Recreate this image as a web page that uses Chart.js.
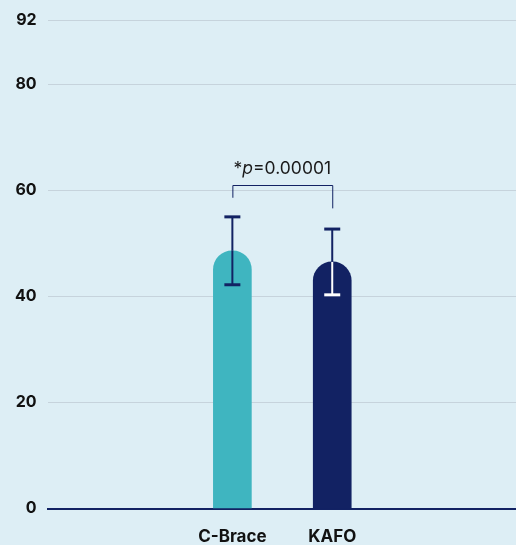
<!DOCTYPE html>
<html>
<head>
<meta charset="utf-8">
<script src="https://cdn.jsdelivr.net/npm/chart.js@4.4.0/dist/chart.umd.min.js"></script>
<style>
  html, body { margin: 0; padding: 0; background: #ddeef5; overflow: hidden; }
  #wrap { width: 516px; height: 553px; }
</style>
</head>
<body>
<div id="wrap"><canvas id="chart"></canvas></div>
<script>
// Mean scores per device with +/- error (SD)
const categories = ['C-Brace', 'KAFO'];
const positions = [1, 2];
const means = [48.6, 46.5];
const errors = [6.4, 6.2];
const barColors = ['#3fb5c0', '#122263'];
const yTicks = [0, 20, 40, 60, 80, 92];

// Significance bracket between the two bars
const sigLabel = ['*', 'p', '=0.00001'];
const sigLevel = 61.1;
const sigLegEnds = [58.6, 56.6];

const navy = '#122263';

// Error bars + bracket drawn on top of the bars
const errorBarPlugin = {
    id: 'errorBars',
    afterDatasetsDraw(chart) {
        const ctx = chart.ctx;
        const x = chart.scales.x;
        const y = chart.scales.y;
        ctx.save();
        positions.forEach((pos, i) => {
            const cx = x.getPixelForValue(pos);
            const top = y.getPixelForValue(means[i] + errors[i]);
            const bottom = y.getPixelForValue(means[i] - errors[i]);
            const barTop = y.getPixelForValue(means[i]);
            // part inside a dark bar is drawn white
            const inner = i === 1 ? '#ffffff' : navy;
            ctx.lineWidth = 2;
            ctx.strokeStyle = navy;
            ctx.beginPath();
            ctx.moveTo(cx, top);
            ctx.lineTo(cx, barTop);
            ctx.stroke();
            ctx.strokeStyle = inner;
            ctx.beginPath();
            ctx.moveTo(cx, barTop);
            ctx.lineTo(cx, bottom);
            ctx.stroke();
            ctx.lineWidth = 3;
            ctx.strokeStyle = navy;
            ctx.beginPath();
            ctx.moveTo(cx - 8, top);
            ctx.lineTo(cx + 8, top);
            ctx.stroke();
            ctx.strokeStyle = inner;
            ctx.beginPath();
            ctx.moveTo(cx - 8, bottom);
            ctx.lineTo(cx + 8, bottom);
            ctx.stroke();
        });

        // bracket
        const x1 = x.getPixelForValue(positions[0]);
        const x2 = x.getPixelForValue(positions[1]);
        const by = Math.round(y.getPixelForValue(sigLevel)) + 0.5;
        ctx.lineWidth = 1;
        ctx.strokeStyle = navy;
        ctx.beginPath();
        ctx.moveTo(x1 + 0.5, y.getPixelForValue(sigLegEnds[0]));
        ctx.lineTo(x1 + 0.5, by);
        ctx.lineTo(x2 + 0.5, by);
        ctx.lineTo(x2 + 0.5, y.getPixelForValue(sigLegEnds[1]));
        ctx.stroke();

        // label: *p=0.00001 with italic p
        const fonts = ['17.5px Inter', 'italic 17.5px Inter', '17.5px Inter'];
        let widths = sigLabel.map((t, k) => { ctx.font = fonts[k]; return ctx.measureText(t).width; });
        let total = widths.reduce((a, b) => a + b, 0);
        let tx = (x1 + x2) / 2 - total / 2;
        ctx.fillStyle = '#1a1a1a';
        ctx.textBaseline = 'alphabetic';
        ctx.textAlign = 'left';
        sigLabel.forEach((t, k) => {
            ctx.font = fonts[k];
            ctx.fillText(t, tx, by - 12);
            tx += widths[k];
        });
        ctx.restore();
    }
};

const ctx = document.getElementById('chart').getContext('2d');
const chart = new Chart(ctx, {
    type: 'bar',
    data: {
        datasets: [{
            data: positions.map((p, i) => ({ x: p, y: means[i] })),
            backgroundColor: barColors,
            borderRadius: { topLeft: 19, topRight: 19, bottomLeft: 0, bottomRight: 0 },
            borderSkipped: false,
            barThickness: 38
        }]
    },
    options: {
        responsive: true,
        maintainAspectRatio: false,
        animation: false,
        layout: { padding: { top: 8, right: 0, left: 4, bottom: -12 } },
        plugins: {
            legend: { display: false },
            tooltip: { enabled: false }
        },
        scales: {
            x: {
                type: 'linear',
                offset: false,
                min: -0.85,
                max: 3.84,
                afterBuildTicks: (axis) => { axis.ticks = positions.map(v => ({ value: v })); },
                ticks: {
                    callback: (v) => categories[positions.indexOf(v)] || '',
                    color: '#111111',
                    font: { family: 'Inter', size: 17, weight: 'bold' },
                    padding: 18,
                    maxRotation: 0
                },
                grid: { display: false, drawTicks: false, offset: false },
                border: { display: true, color: navy, width: 2 }
            },
            y: {
                min: 0,
                max: 92,
                afterBuildTicks: (axis) => { axis.ticks = yTicks.map(v => ({ value: v })); },
                ticks: {
                    color: '#111111',
                    font: { family: 'Inter', size: 16, weight: 'bold' },
                    padding: 11
                },
                grid: {
                    drawTicks: false,
                    color: (c) => c.tick && c.tick.value === 0 ? 'rgba(0,0,0,0)' : '#c6d3dc',
                    lineWidth: 1
                },
                border: { display: false }
            }
        }
    },
    plugins: [errorBarPlugin]
});
</script>
</body>
</html>
